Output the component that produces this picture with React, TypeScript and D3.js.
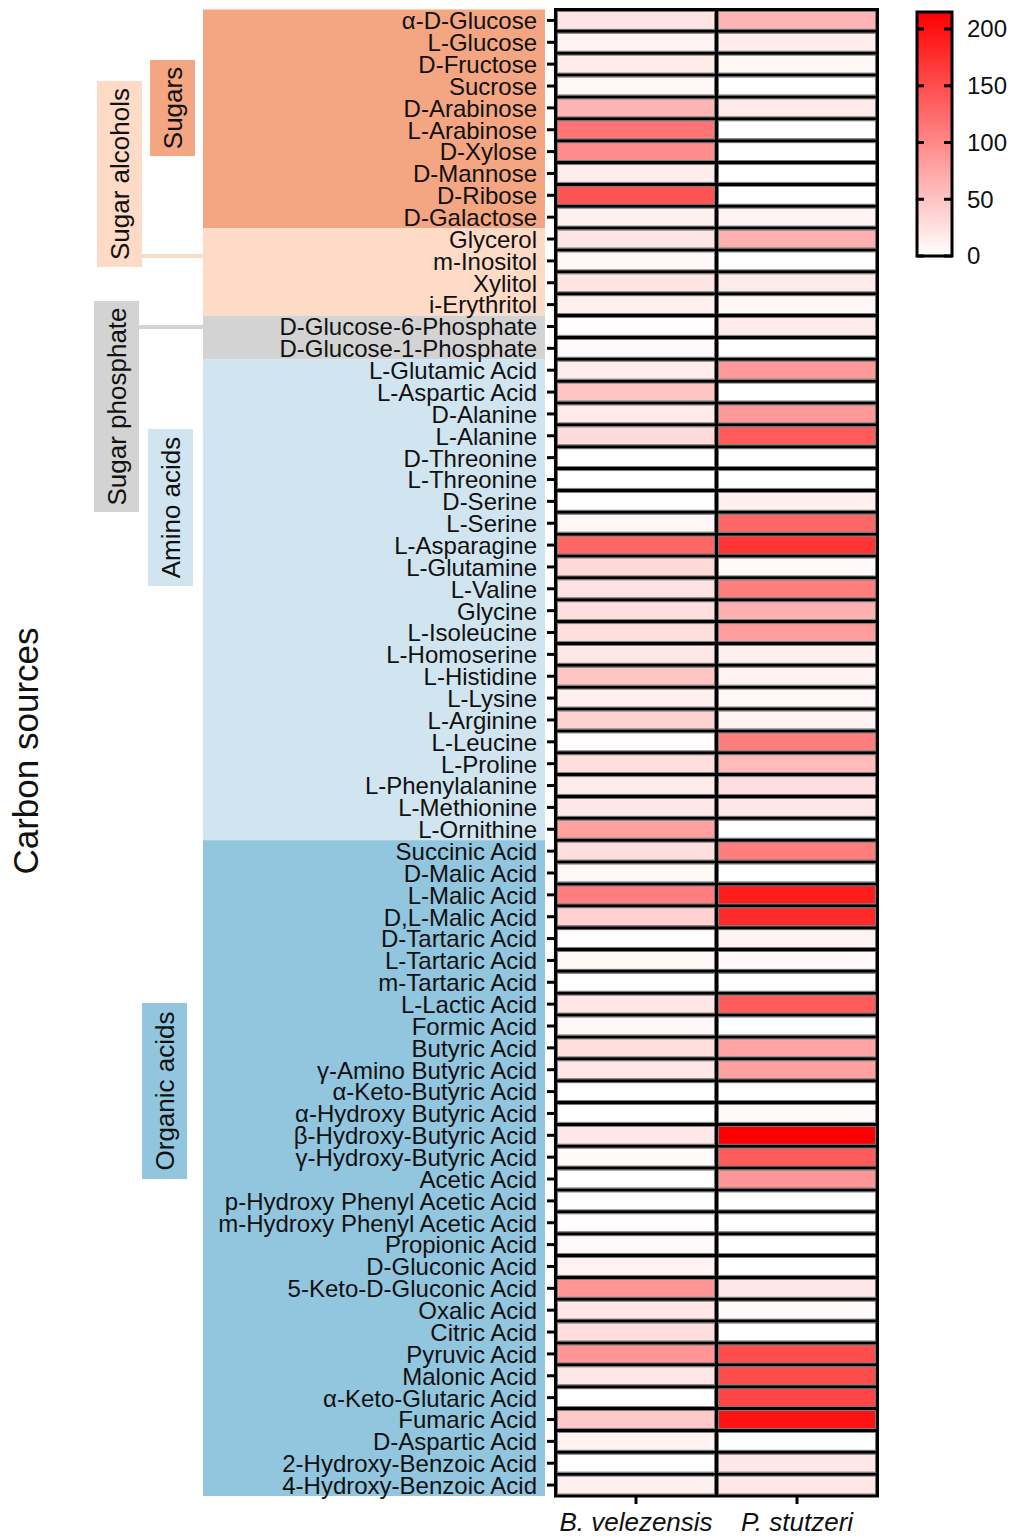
import React from 'react';
import * as d3 from 'd3';

// carbon sources, grouped as in the figure
const sugars = ['α-D-Glucose', 'L-Glucose', 'D-Fructose', 'Sucrose', 'D-Arabinose', 'L-Arabinose', 'D-Xylose', 'D-Mannose', 'D-Ribose', 'D-Galactose'];
const sugarAlcohols = ['Glycerol', 'm-Inositol', 'Xylitol', 'i-Erythritol'];
const sugarPhosphates = ['D-Glucose-6-Phosphate', 'D-Glucose-1-Phosphate'];
const aminoAcids = ['L-Glutamic Acid', 'L-Aspartic Acid', 'D-Alanine', 'L-Alanine', 'D-Threonine', 'L-Threonine', 'D-Serine', 'L-Serine', 'L-Asparagine', 'L-Glutamine', 'L-Valine', 'Glycine', 'L-Isoleucine', 'L-Homoserine', 'L-Histidine', 'L-Lysine', 'L-Arginine', 'L-Leucine', 'L-Proline', 'L-Phenylalanine', 'L-Methionine', 'L-Ornithine'];
const organicAcids = ['Succinic Acid', 'D-Malic Acid', 'L-Malic Acid', 'D,L-Malic Acid', 'D-Tartaric Acid', 'L-Tartaric Acid', 'm-Tartaric Acid', 'L-Lactic Acid', 'Formic Acid', 'Butyric Acid', 'γ-Amino Butyric Acid', 'α-Keto-Butyric Acid', 'α-Hydroxy Butyric Acid', 'β-Hydroxy-Butyric Acid', 'γ-Hydroxy-Butyric Acid', 'Acetic Acid', 'p-Hydroxy Phenyl Acetic Acid', 'm-Hydroxy Phenyl Acetic Acid', 'Propionic Acid', 'D-Gluconic Acid', '5-Keto-D-Gluconic Acid', 'Oxalic Acid', 'Citric Acid', 'Pyruvic Acid', 'Malonic Acid', 'α-Keto-Glutaric Acid', 'Fumaric Acid', 'D-Aspartic Acid', '2-Hydroxy-Benzoic Acid', '4-Hydroxy-Benzoic Acid'];

const strains = ['B. velezensis', 'P. stutzeri'];

// values in row order (sugars → organic acids)
const bVelezensis = [
  23, 10, 18, 8, 63, 117, 98, 16, 146, 13,
  23, 6, 23, 13,
  2, 4,
  15, 49, 18, 31, 0, 0, 0, 8, 129, 33, 25, 28, 28, 20, 49, 13, 39, 2, 28, 18, 20, 79,
  28, 8, 110, 39, 2, 8, 0, 22, 6, 28, 20, 0, 0, 20, 4, 0, 0, 2, 4, 11, 89, 20, 28, 89, 20, 0, 46, 11, 0, 13,
];
const pStutzeri = [
  63, 15, 8, 0, 18, 2, 0, 0, 0, 10,
  67, 0, 18, 7,
  18, 0,
  86, 0, 86, 138, 0, 0, 13, 129, 171, 5, 110, 66, 83, 13, 11, 7, 11, 110, 58, 28, 20, 0,
  110, 0, 191, 180, 11, 5, 0, 138, 0, 77, 79, 0, 4, 215, 138, 89, 0, 0, 0, 0, 20, 4, 0, 150, 150, 157, 200, 0, 20, 20,
];

const colorTicks = [0, 50, 100, 150, 200];
const colorMax = 215;

const groups = [
  { name: 'Sugars', items: sugars, fill: '#F4A582' },
  { name: 'Sugar alcohols', items: sugarAlcohols, fill: '#FDDBC7' },
  { name: 'Sugar phosphate', items: sugarPhosphates, fill: '#D3D3D3' },
  { name: 'Amino acids', items: aminoAcids, fill: '#D1E5F0' },
  { name: 'Organic acids', items: organicAcids, fill: '#92C5DE' },
];

// label boxes on the left: [x0, x1, y0, y1]
const groupBoxes = {
  'Sugars': [150, 195, 60, 156],
  'Sugar alcohols': [97, 142, 81, 267],
  'Sugar phosphate': [94, 139, 301, 512],
  'Amino acids': [148, 193, 429, 586],
  'Organic acids': [142, 187, 1003, 1179],
};

const FONT = "'Liberation Sans', Arial, Helvetica, sans-serif";

export default function App() {
  const names = groups.flatMap(g => g.items);

  const y = d3.scaleBand<string>().domain(names).range([9.5, 1496]).paddingInner(0);
  const x = d3.scaleBand<string>().domain(strains).range([555.5, 877.5]);
  const color = d3.scaleLinear<string>().domain([0, colorMax]).range(['#ffffff', '#ff0000']).interpolate(d3.interpolateRgb);
  const cb = d3.scaleLinear().domain([0, colorMax]).range([256, 12]);

  const panelX0 = 203;
  const panelX1 = 545;
  const rh = y.bandwidth();

  const cells: { key: string; xs: number; ys: number; v: number }[] = [];
  names.forEach((n, i) => {
    cells.push({ key: n + '-b', xs: x(strains[0])!, ys: y(n)!, v: bVelezensis[i] });
    cells.push({ key: n + '-p', xs: x(strains[1])!, ys: y(n)!, v: pStutzeri[i] });
  });

  const bands = groups.map(g => {
    const y0 = y(g.items[0])!;
    const y1 = y(g.items[g.items.length - 1])! + rh;
    return { ...g, y0, y1 };
  });

  const hx0 = x.range()[0];
  const hx1 = x.range()[1];
  const hy0 = y.range()[0];
  const hy1 = y.range()[1];

  return (
    <svg width={1017} height={1536} style={{ position: 'absolute', left: 0, top: 0, display: 'block' }} fontFamily={FONT}>
      <defs>
        <linearGradient id="cbar" x1="0" y1="1" x2="0" y2="0">
          <stop offset="0%" stopColor={color(0)} />
          <stop offset="100%" stopColor={color(colorMax)} />
        </linearGradient>
      </defs>

      {/* group backgrounds behind the labels */}
      {bands.map(b => (
        <rect key={b.name} x={panelX0} y={b.y0} width={panelX1 - panelX0} height={b.y1 - b.y0} fill={b.fill} />
      ))}

      {/* connectors for the two small groups */}
      <line x1={142} x2={panelX0} y1={256} y2={256} stroke="#FDDBC7" strokeWidth={4} />
      <line x1={139} x2={panelX0} y1={327} y2={327} stroke="#D3D3D3" strokeWidth={4} />

      {/* group label boxes */}
      {groups.map(g => {
        const [bx0, bx1, by0, by1] = groupBoxes[g.name];
        const cx = (bx0 + bx1) / 2;
        const cy = (by0 + by1) / 2;
        return (
          <g key={g.name}>
            <rect x={bx0} y={by0} width={bx1 - bx0} height={by1 - by0} fill={g.fill} />
            <text transform={`translate(${cx + 9},${cy}) rotate(-90)`} textAnchor="middle" fontSize={26} fill="#111">{g.name}</text>
          </g>
        );
      })}

      <text transform="translate(38,751) rotate(-90)" textAnchor="middle" fontSize={35} fill="#111">Carbon sources</text>

      {/* row labels */}
      {names.map(n => (
        <text key={n} x={537} y={y(n)! + rh / 2} dy="0.37em" textAnchor="end" fontSize={24} fill="#111">{n}</text>
      ))}

      {/* cells */}
      {cells.map(c => (
        <rect key={c.key} x={c.xs + 2} y={c.ys + 2} width={x.bandwidth() - 4} height={rh - 4} fill={color(c.v)} stroke="#777" strokeWidth={1} />
      ))}

      {/* grid lines */}
      {names.slice(1).map(n => (
        <line key={'h' + n} x1={hx0} x2={hx1} y1={y(n)!} y2={y(n)!} stroke="#000" strokeWidth={3} />
      ))}
      <line x1={x(strains[1])!} x2={x(strains[1])!} y1={hy0} y2={hy1} stroke="#000" strokeWidth={3} />
      <rect x={hx0} y={hy0} width={hx1 - hx0} height={hy1 - hy0} fill="none" stroke="#000" strokeWidth={3} />

      {/* y ticks */}
      {names.map(n => (
        <line key={'t' + n} x1={547} x2={hx0} y1={y(n)! + rh / 2} y2={y(n)! + rh / 2} stroke="#000" strokeWidth={3} />
      ))}

      {/* x ticks and labels */}
      {strains.map(s => {
        const cx = x(s)! + x.bandwidth() / 2;
        return (
          <g key={s}>
            <line x1={cx} x2={cx} y1={hy1} y2={hy1 + 8} stroke="#000" strokeWidth={3} />
            <text x={cx} y={1531} textAnchor="middle" fontSize={26} fontStyle="italic" fill="#111">{s}</text>
          </g>
        );
      })}

      {/* colour bar */}
      <rect x={917} y={cb(colorMax)} width={35} height={cb(0) - cb(colorMax)} fill="url(#cbar)" stroke="#000" strokeWidth={3} />
      {colorTicks.map(t => (
        <g key={t}>
          <line x1={917} x2={924} y1={cb(t)} y2={cb(t)} stroke="#000" strokeWidth={3} />
          <line x1={944} x2={952} y1={cb(t)} y2={cb(t)} stroke="#000" strokeWidth={3} />
          <text x={967} y={cb(t)} dy="0.35em" fontSize={24} fill="#111">{t}</text>
        </g>
      ))}
    </svg>
  );
}
